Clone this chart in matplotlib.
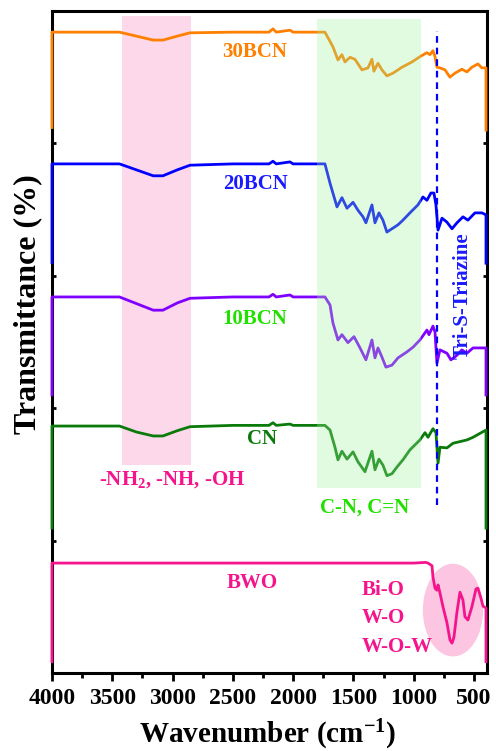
import matplotlib
matplotlib.use("Agg")
import matplotlib.pyplot as plt
from matplotlib.patches import Ellipse

plt.rcParams["font.family"] = ["Liberation Serif", "DejaVu Serif"]
plt.rcParams["font.weight"] = "bold"
plt.rcParams["mathtext.fontset"] = "custom"
plt.rcParams["mathtext.rm"] = "Liberation Serif:bold"
plt.rcParams["mathtext.bf"] = "Liberation Serif:bold"
plt.rcParams["mathtext.default"] = "rm"

# FTIR spectra, relative transmittance (each trace on its own 100-unit band)
wn_30 = [4000, 4000, 3440, 3300, 3160, 3080, 2960, 2855, 2500, 2200,
         2167, 2140, 2026, 2000, 1736, 1670, 1628, 1595, 1570, 1528,
         1487, 1429, 1379, 1346, 1330, 1296, 1263, 1222, 1172, 1097,
         1014, 948, 890, 865, 840, 823, 807, 782, 740, 699,
         658, 600, 558, 517, 467, 434, 400, 400]
t_30 = [12, 84, 84, 81, 78, 78, 81, 83.5, 84, 84,
        86.5, 84, 85.5, 84, 84, 73, 63, 67, 61.5, 65,
        63.5, 55.5, 57, 63.5, 54.5, 60.5, 55.5, 51, 53, 57.5,
        61.5, 65.5, 68.5, 67, 70, 65.5, 57.5, 57, 55.5, 50,
        53, 56, 54, 57.5, 60, 57, 57, 10]

wn_20 = [4000, 4000, 3440, 3300, 3160, 3080, 2960, 2855, 2500, 2200,
         2167, 2140, 2026, 2000, 1736, 1694, 1670, 1636, 1595, 1553,
         1503, 1462, 1420, 1396, 1346, 1321, 1288, 1255, 1222, 1172,
         1130, 1089, 1031, 965, 923, 890, 857, 832, 815, 798,
         765, 724, 682, 641, 591, 550, 492, 434, 400, 400]
t_20 = [10, 84.5, 84.5, 80, 75.5, 75.5, 80, 83.5, 84.5, 84.5,
        86.5, 84.5, 86, 84.5, 84.5, 70, 62.5, 52, 59, 51,
        55.5, 49.5, 44.5, 40, 53.5, 40, 47.5, 42, 33, 36,
        38.5, 42, 47.5, 53.5, 59.5, 57, 62.5, 62.5, 53.5, 34.5,
        43.5, 40.5, 35.5, 40, 44.5, 42, 47.5, 47.5, 46, 9.5]

wn_10 = [4000, 4000, 3440, 3300, 3160, 3080, 2960, 2855, 2500, 2200,
         2167, 2140, 2026, 2000, 1736, 1694, 1670, 1628, 1595, 1545,
         1495, 1445, 1396, 1346, 1321, 1296, 1263, 1230, 1180, 1130,
         1056, 1006, 948, 890, 873, 840, 823, 807, 782, 724,
         691, 641, 600, 558, 508, 400, 400]
t_10 = [10, 84, 84, 79, 74, 74, 79.5, 83, 84, 84,
        86, 84, 85.5, 84, 84, 78, 64.5, 51.5, 55.5, 49.5,
        54, 45.5, 36.5, 51.5, 38, 45.5, 38.5, 31, 32.5, 38,
        42.5, 46, 51.5, 59, 55.5, 62, 57.5, 34, 44, 41.5,
        36.5, 40, 44, 41.5, 45.5, 45.5, 10]

wn_cn = [4000, 4000, 3440, 3300, 3160, 3080, 2960, 2855, 2500, 2200,
         2167, 2140, 2026, 2000, 1736, 1694, 1653, 1628, 1595, 1553,
         1503, 1462, 1404, 1346, 1321, 1288, 1255, 1222, 1180, 1139,
         1089, 1031, 948, 906, 881, 840, 815, 798, 782, 724,
         674, 558, 508, 400, 400]
t_cn = [9.5, 86.5, 86.5, 82, 79, 79, 83, 86, 87, 87,
        89, 87, 88, 87, 87, 83.5, 70.5, 61, 67.5, 61.5,
        67, 59.5, 52, 67.5, 53.5, 61.5, 57, 49, 50.5, 55.5,
        61, 68.5, 76, 81.5, 78, 84.5, 81.5, 58.5, 70.5, 70,
        73.5, 76, 78, 83.5, 9.5]

wn_bwo = [4000, 4000, 1000, 900, 881, 848, 840, 823, 807, 798,
          782, 757, 724, 699, 682, 666, 641, 616, 591, 575,
          550, 517, 483, 467, 442, 425, 400, 400]
t_bwo = [8.5, 83, 83, 83.5, 83, 81, 72.5, 64, 62.5, 66.5,
         60.5, 50, 38, 25, 22.5, 27, 46, 61, 55, 42.5,
         40, 50, 63.5, 64, 56.5, 50.5, 49, 8.5]

names = ["30BCN", "20BCN", "10BCN", "CN", "BWO"]
offsets = [400, 300, 200, 100, 0]
line_colors = ["#ff8000", "#0000ff", "#8000ff", "#0a7a0a", "#f5148c"]
label_colors = ["#ff8000", "#1a1aff", "#22e000", "#0a7a0a", "#f5148c"]
label_x = [2316, 2316, 2316, 2258, 2341]
label_y = [469, 369, 267, 177, 68]

spectra = [(wn_30, t_30), (wn_20, t_20), (wn_10, t_10), (wn_cn, t_cn), (wn_bwo, t_bwo)]

fig = plt.figure(figsize=(4.96, 7.51), dpi=100)
ax = fig.add_axes([0.1048, 0.1039, 0.8770, 0.8815])

# band regions
ax.axvspan(3420, 2850, ymin=157 / 500, ymax=496 / 500, color="#fdd8ea", zorder=0.5, lw=0)
ax.axvspan(1800, 940, ymin=140 / 500, ymax=494 / 500, color=(0.62, 0.96, 0.62),
           alpha=0.3, zorder=3.5, lw=0)
ax.add_patch(Ellipse((674, 47.5), 500, 70, color="#fcc6e2", lw=0, zorder=1))

for (wn, t), off, c in zip(spectra, offsets, line_colors):
    ax.plot(wn, [v + off for v in t], color=c, lw=2.0, zorder=3, clip_on=False)

for name, x, y, c in zip(names, label_x, label_y, label_colors):
    ax.text(x, y, name, color=c, fontsize=15, ha="center", va="center", zorder=5)

ax.plot([808, 808], [127, 485], color="#0000ff", lw=1.6, ls=(0, (3, 2.2)), zorder=4)

ax.text(3005, 146, "-NH$_2$, -NH, -OH", color="#f5148c", fontsize=15, ha="center", va="center")
ax.text(1404, 125, "C-N, C=N", color="#22e000", fontsize=15, ha="center", va="center")
ax.text(1429, 62.7, "Bi-O", color="#f5148c", fontsize=15, ha="left", va="center")
ax.text(1429, 41.5, "W-O", color="#f5148c", fontsize=15, ha="left", va="center")
ax.text(1429, 19.6, "W-O-W", color="#f5148c", fontsize=15, ha="left", va="center")
ax.text(591, 285, "Tri-S-Triazine", color="#1a1aff", fontsize=15, rotation=90,
        ha="center", va="center", zorder=5)

ax.set_xlim(4000, 392)
ax.set_ylim(0, 500)
ax.set_xticks([4000, 3500, 3000, 2500, 2000, 1500, 1000, 500])
ax.set_xticks([3750, 3250, 2750, 2250, 1750, 1250, 750], minor=True)
ax.set_yticks([100, 200, 300, 400])
ax.set_yticklabels([])
ax.tick_params(axis="x", which="major", direction="out", length=6, width=2,
               labelsize=17, pad=5)
ax.tick_params(axis="x", which="minor", direction="out", length=3.5, width=2)
ax.tick_params(axis="y", direction="in", length=3, width=2, left=True, right=True)
for lab in ax.get_xticklabels():
    lab.set_fontweight("bold")
for sp in ax.spines.values():
    sp.set_linewidth(2.2)

fig.text(268 / 496, 1 - 735 / 751, "Wavenumber (cm$^{-1}$)", fontsize=21,
         ha="center", va="center")
fig.text(28 / 496, 1 - 304 / 751, "Transmittance (%)", fontsize=23, rotation=90,
         ha="center", va="center")

fig.savefig("out.png", dpi=100)
